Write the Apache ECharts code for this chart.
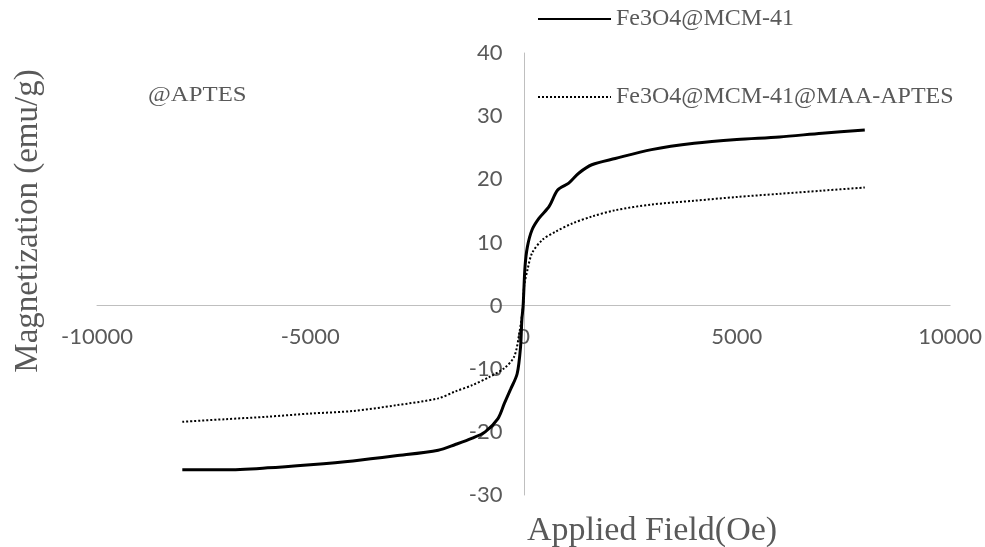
<!DOCTYPE html>
<html>
<head>
<meta charset="utf-8">
<title>Magnetization</title>
<script src="https://cdn.jsdelivr.net/npm/echarts@6/dist/echarts.min.js"></script>
<style>
  html, body { margin: 0; padding: 0; background: #fff; }
  #vsm { width: 985px; height: 547px; }
</style>
</head>
<body>
<div id="vsm"></div>
<script>
  // 外加磁场 (Oe) / 磁化强度 (emu/g)
  var fieldA = [-8000, -7000, -6000, -5000, -4000, -3000, -2000, -1600, -1200, -900, -600, -450, -300, -150, -70, -40, -10, 35, 90, 200, 360, 600, 800, 1060, 1300, 1600, 2150, 3000, 4000, 5000, 6000, 7000, 8000]
  var magA = [-26, -26, -25.7, -25.2, -24.6, -23.8, -22.9, -22.0, -21.0, -20.0, -17.9, -15.5, -13.2, -10.8, -6.5, -2.3, 0, 6.2, 9.3, 12.0, 13.8, 15.7, 18.3, 19.4, 21.0, 22.3, 23.3, 24.7, 25.7, 26.3, 26.7, 27.3, 27.8]

  var fieldB = [-8000, -7000, -6000, -5000, -4000, -3000, -2000, -1600, -1200, -800, -450, -220, -100, -10, 12, 90, 200, 440, 750, 1140, 1600, 2150, 3000, 4000, 5000, 6000, 7000, 8000]
  var magB = [-18.4, -18.0, -17.6, -17.1, -16.7, -15.8, -14.7, -13.6, -12.6, -11.3, -9.9, -8.1, -4.4, 0, 3.0, 5.6, 8.3, 10.4, 11.7, 13.0, 14.1, 15.1, 16.0, 16.6, 17.2, 17.7, 18.2, 18.7]

  var seriesNames = ['Fe3O4@MCM-41', 'Fe3O4@MCM-41@MAA-APTES']
  var xTicks = { min: -10000, max: 10000, interval: 5000 }
  var yTicks = { min: -30, max: 40, interval: 10 }

  var grey = '#595959'
  var serif = '"Liberation Serif", "DejaVu Serif", serif'
  var sans = 'Lato, "Open Sans", sans-serif'

  // grid box
  var gLeft = 97, gRight = 33, gTop = 53, gBottom = 52
  var gW = 985 - gLeft - gRight
  var gH = 547 - gTop - gBottom

  function pairs(xs, ys) {
    return xs.map(function (x, i) { return [x, ys[i]] })
  }

  var myChart = echarts.init(document.getElementById('vsm'))

  // axes cross at zero, labels follow the lines
  var xOffset = -gH * (0 - yTicks.min) / (yTicks.max - yTicks.min)
  var yOffset = -gW * (0 - xTicks.min) / (xTicks.max - xTicks.min)

  var option = {
    animation: false,
    backgroundColor: '#fff',
    grid: {
      left: gLeft,
      right: gRight,
      top: gTop,
      bottom: gBottom,
      containLabel: false
    },
    legend: {
      orient: 'vertical',
      left: 532,
      top: 2,
      itemWidth: 73,
      itemHeight: 4,
      itemGap: 54,
      itemStyle: { opacity: 0, borderWidth: 0 },
      textStyle: {
        color: grey,
        fontFamily: serif,
        fontSize: 24
      },
      data: seriesNames
    },
    xAxis: {
      type: 'value',
      position: 'bottom',
      offset: xOffset,
      min: xTicks.min,
      max: xTicks.max,
      interval: xTicks.interval,
      splitLine: { show: false },
      axisTick: { show: false },
      axisLine: {
        onZero: false,
        lineStyle: { color: '#bfbfbf', width: 1 }
      },
      axisLabel: {
        color: grey,
        fontFamily: sans,
        fontSize: 22,
        margin: 20,
        formatter: function (v) { return String(v) }
      }
    },
    yAxis: {
      type: 'value',
      position: 'left',
      offset: yOffset,
      min: yTicks.min,
      max: yTicks.max,
      interval: yTicks.interval,
      splitLine: { show: false },
      axisTick: { show: false },
      axisLine: {
        show: true,
        onZero: false,
        lineStyle: { color: '#bfbfbf', width: 1 }
      },
      axisLabel: {
        color: grey,
        fontFamily: sans,
        fontSize: 22,
        margin: 22
      }
    },
    graphic: [
      {
        type: 'text',
        x: 148,
        y: 95,
        scaleX: 1.18,
        style: {
          text: '@APTES',
          fill: grey,
          font: '21px ' + serif,
          verticalAlign: 'middle'
        }
      },
      {
        type: 'text',
        x: 28,
        y: 221,
        rotation: Math.PI / 2,
        style: {
          text: 'Magnetization (emu/g)',
          fill: grey,
          font: '33px ' + serif,
          align: 'center',
          verticalAlign: 'middle'
        }
      },
      {
        type: 'text',
        x: 652,
        y: 531,
        style: {
          text: 'Applied Field(Oe)',
          fill: grey,
          font: '34px ' + serif,
          align: 'center',
          verticalAlign: 'middle'
        }
      }
    ],
    series: [
      {
        name: seriesNames[0],
        type: 'line',
        showSymbol: false,
        symbol: 'none',
        smooth: 0.3,
        data: pairs(fieldA, magA),
        lineStyle: { color: '#000', width: 3 },
        itemStyle: { color: '#000' }
      },
      {
        name: seriesNames[1],
        type: 'line',
        showSymbol: false,
        symbol: 'none',
        smooth: 0.3,
        data: pairs(fieldB, magB),
        lineStyle: { color: '#000', width: 2, type: [2, 2] },
        itemStyle: { color: '#000' }
      }
    ]
  }

  myChart.setOption(option, true)
</script>
</body>
</html>
